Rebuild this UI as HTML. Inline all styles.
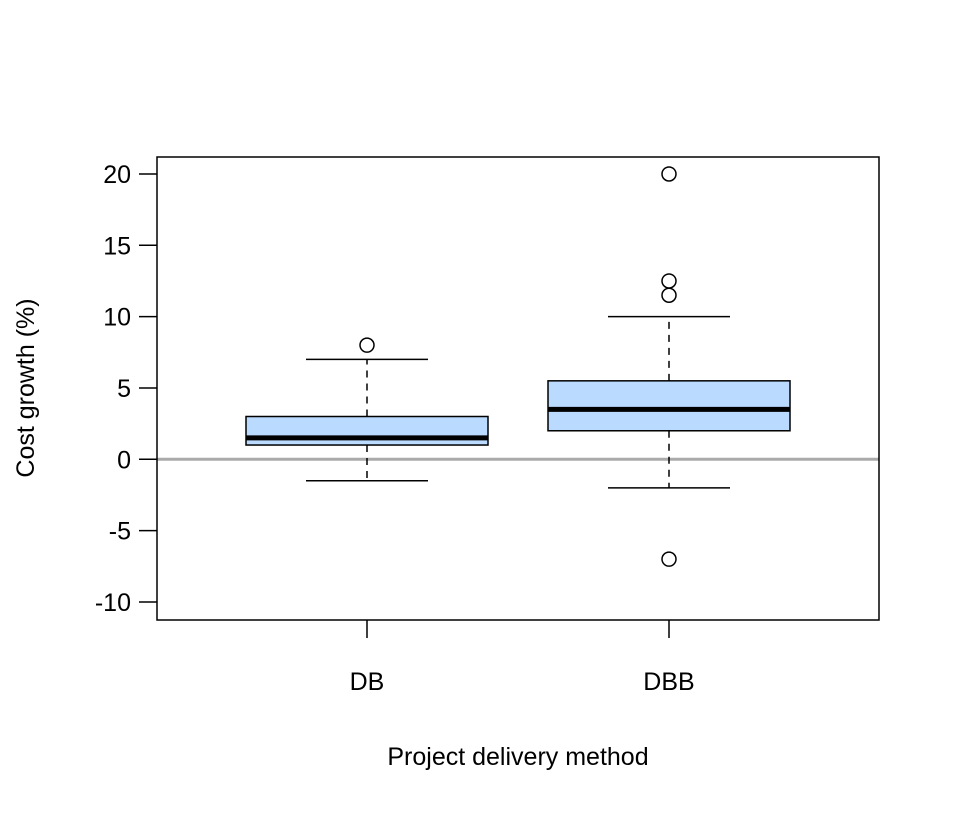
<!DOCTYPE html>
<html><head><meta charset="utf-8"><style>body{margin:0;background:#fff}svg{display:block;font-family:"Liberation Sans",sans-serif}</style></head>
<body>
<svg id="chart" width="960" height="816"></svg>
<script>
const categories = ["DB", "DBB"];
const q1s = [1, 2];
const medians = [1.5, 3.5];
const q3s = [3, 5.5];
const whiskLo = [-1.5, -2];
const whiskHi = [7, 10];
const outliers = [[8], [20, 12.5, 11.5, -7]];
const yTicks = [-10, -5, 0, 5, 10, 15, 20];

const NS = "http://www.w3.org/2000/svg";
const svg = document.getElementById("chart");
const L = 157, R = 879, T = 157, B = 620;
const y = v => 459.3 - v * (428 / 30);
const xc = i => 367 + i * 302;
const halfBox = 121, halfCap = 61;
function mk(tag, attrs, parent) {
  const e = document.createElementNS(NS, tag);
  for (const k in attrs) e.setAttribute(k, attrs[k]);
  (parent || svg).appendChild(e);
  return e;
}
// zero reference line
const zl = mk("line", {x1: L, x2: R, y1: y(0), y2: y(0), stroke: "#aaaaaa", "stroke-width": 3});



categories.forEach((c, i) => {
  const g = mk("g", {});
  
  
  const x = xc(i);
  mk("line", {x1: x, x2: x, y1: y(q3s[i]), y2: y(whiskHi[i]), stroke: "#000", "stroke-width": 1.5, "stroke-dasharray": "7,6"}, g);
  mk("line", {x1: x, x2: x, y1: y(q1s[i]), y2: y(whiskLo[i]), stroke: "#000", "stroke-width": 1.5, "stroke-dasharray": "7,6"}, g);
  mk("line", {x1: x - halfCap, x2: x + halfCap, y1: y(whiskHi[i]), y2: y(whiskHi[i]), stroke: "#000", "stroke-width": 1.5}, g);
  mk("line", {x1: x - halfCap, x2: x + halfCap, y1: y(whiskLo[i]), y2: y(whiskLo[i]), stroke: "#000", "stroke-width": 1.5}, g);
  mk("rect", {x: x - halfBox, y: y(q3s[i]), width: 2 * halfBox, height: y(q1s[i]) - y(q3s[i]), fill: "#bbdaff", stroke: "#000", "stroke-width": 1.5}, g);
  mk("line", {x1: x - halfBox, x2: x + halfBox, y1: y(medians[i]), y2: y(medians[i]), stroke: "#000", "stroke-width": 5}, g);
  outliers[i].forEach(v => {
    const o = mk("circle", {cx: x, cy: y(v), r: 7, fill: "none", stroke: "#000", "stroke-width": 1.5}, g);
    
    
  });
  const t = mk("line", {x1: x, x2: x, y1: B, y2: B + 18, stroke: "#000", "stroke-width": 1.5});
  
  
  const lb = mk("text", {x: x, y: 690, "text-anchor": "middle", "font-size": 25});
  lb.textContent = c;
  
  
});

yTicks.forEach(v => {
  const t = mk("line", {x1: L - 18, x2: L, y1: y(v), y2: y(v), stroke: "#000", "stroke-width": 1.5});
  
  
  const lb = mk("text", {x: 131, y: y(v) + 9, "text-anchor": "end", "font-size": 25});
  lb.textContent = v;
  
  
});

const fr = mk("rect", {x: L, y: T, width: R - L, height: B - T, fill: "none", stroke: "#000", "stroke-width": 1.5});



const xt = mk("text", {x: 518, y: 765, "text-anchor": "middle", "font-size": 25});
xt.textContent = "Project delivery method";


const yt = mk("text", {x: 0, y: 0, "text-anchor": "middle", "font-size": 25, transform: "translate(34,388) rotate(-90)"});
yt.textContent = "Cost growth (%)";


</script>
</body></html>
